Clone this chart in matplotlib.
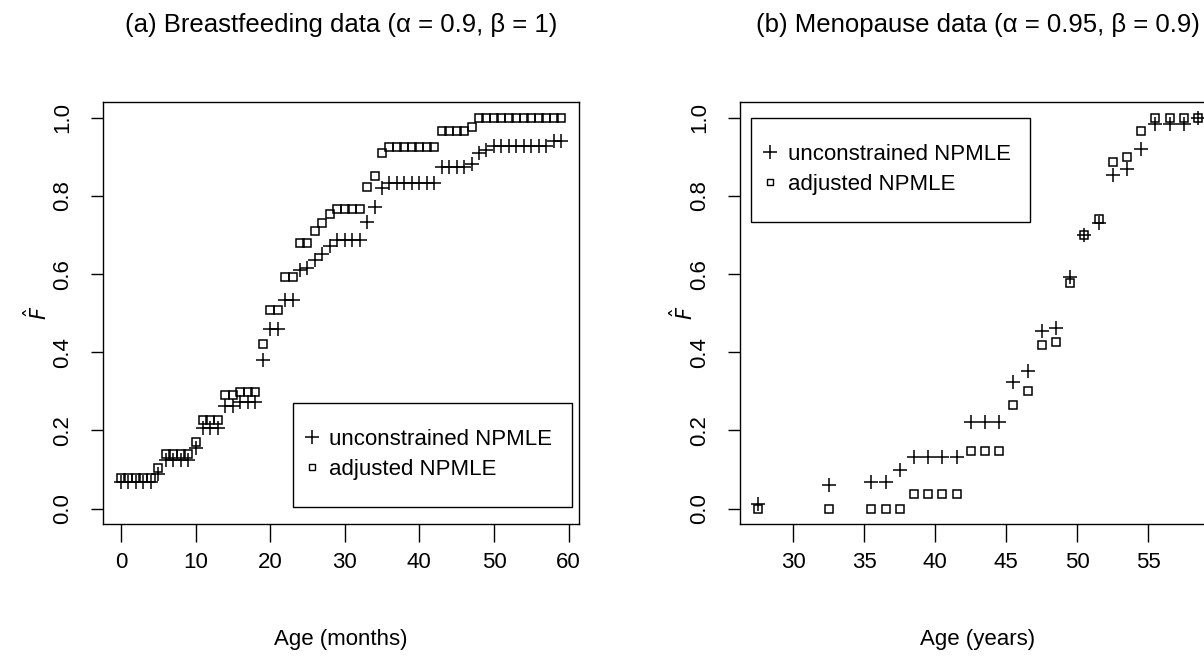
"""Breastfeeding and menopause NPMLE comparison, two panels."""

import matplotlib

matplotlib.use('Agg')
import matplotlib.pyplot as plt
from matplotlib.lines import Line2D
from matplotlib.patches import Rectangle

# (a) breastfeeding data, one estimate per month
months = list(range(60))
bf_unconstrained = (
    [0.068] * 5 + [0.088] + [0.124] * 4 + [0.154] + [0.206] * 3
    + [0.262] * 2 + [0.272] * 3 + [0.38] + [0.46] * 2 + [0.533] * 2
    + [0.61, 0.615, 0.635, 0.652, 0.672] + [0.688] * 4
    + [0.733, 0.772, 0.82] + [0.834] * 7 + [0.873] * 4 + [0.881]
    + [0.91, 0.918] + [0.928] * 8 + [0.94] * 2
)
bf_adjusted = (
    [0.079] * 5 + [0.103] + [0.139] * 4 + [0.171] + [0.228] * 3
    + [0.292] * 2 + [0.299] * 3 + [0.42] + [0.509] * 2 + [0.592] * 2
    + [0.68, 0.68, 0.71, 0.73, 0.754] + [0.766] * 4
    + [0.824, 0.851, 0.909] + [0.925] * 7 + [0.967] * 4 + [0.977]
    + [1.0] * 12
)

# (b) menopause data
ages = [27.5, 32.5, 35.5, 36.5, 37.5, 38.5, 39.5, 40.5, 41.5, 42.5, 43.5,
        44.5, 45.5, 46.5, 47.5, 48.5, 49.5, 50.5, 51.5, 52.5, 53.5, 54.5,
        55.5, 56.5, 57.5, 58.5]
mp_unconstrained = [0.013, 0.06, 0.069, 0.069, 0.099, 0.133, 0.133, 0.133,
                    0.133, 0.222, 0.222, 0.222, 0.324, 0.353, 0.454, 0.462,
                    0.592, 0.699, 0.731, 0.854, 0.869, 0.92, 0.984, 0.984,
                    0.984, 1.0]
mp_adjusted = [0.0, 0.0, 0.0, 0.0, 0.0, 0.038, 0.038, 0.038, 0.038, 0.147,
               0.147, 0.147, 0.264, 0.30, 0.418, 0.427, 0.577, 0.70, 0.741,
               0.888, 0.90, 0.967, 1.0, 1.0, 1.0, 1.0]

titles = ['(a) Breastfeeding data (\u03b1 = 0.9, \u03b2 = 1)',
          '(b) Menopause data (\u03b1 = 0.95, \u03b2 = 0.9)']
xlabels = ['Age (months)', 'Age (years)']
legend_labels = ['unconstrained NPMLE', 'adjusted NPMLE']

plt.rcParams['font.family'] = ['Liberation Sans', 'DejaVu Sans']
plt.rcParams['axes.linewidth'] = 1.0

W, H = 1204, 662
fig = plt.figure(figsize=(W / 100, H / 100), dpi=100)


def px_axes(left, top, right, bottom):
    return fig.add_axes([left / W, 1 - bottom / H, (right - left) / W,
                         (bottom - top) / H])


ax1 = px_axes(103.3, 102.1, 578.7, 524.3)
ax2 = px_axes(740.2, 102.1, 1215.6, 524.3)

panels = [
    (ax1, months, bf_unconstrained, bf_adjusted, (-2.36, 61.36),
     list(range(0, 61, 10))),
    (ax2, ages, mp_unconstrained, mp_adjusted, (26.26, 59.74),
     list(range(30, 60, 5))),
]

for i, (ax, x, unc, adj, xlim, xticks) in enumerate(panels):
    ax.plot(x, unc, linestyle='none', marker='+', color='black',
            markersize=10, markeredgewidth=1.1)
    ax.plot(x, adj, linestyle='none', marker='s', color='black',
            markerfacecolor='none', markersize=6, markeredgewidth=1.1)
    ax.set_xlim(*xlim)
    ax.set_ylim(-0.04, 1.04)
    ax.set_xticks(xticks)
    ax.set_xticklabels([str(t) for t in xticks], fontsize=16)
    yt = [0.0, 0.2, 0.4, 0.6, 0.8, 1.0]
    ax.set_yticks(yt)
    ax.set_yticklabels([f'{t:.1f}' for t in yt], rotation=90, va='center',
                       fontsize=16)
    ax.tick_params(axis='x', direction='out', length=13, width=1, pad=7)
    ax.tick_params(axis='y', direction='out', length=8.6, width=1, pad=13)
    ax.set_title(titles[i], fontsize=18.5, y=1.1826, va='center', pad=0)
    ax.set_xlabel(xlabels[i], fontsize=16, va='center')
    ax.xaxis.set_label_coords(0.5, -0.274)
    ax.set_ylabel(r'$\hat{F}$', fontsize=15, rotation=90, va='center')
    ax.yaxis.set_label_coords(-0.1395 if i == 0 else -0.12, 0.5)

handles = [
    Line2D([], [], linestyle='none', marker='+', color='black',
           markersize=10, markeredgewidth=1.1),
    Line2D([], [], linestyle='none', marker='s', color='black',
           markerfacecolor='none', markersize=5, markeredgewidth=1.0),
]

# legend frames (axes fractions) and content
legend_boxes = [
    (ax1, 0.398, 0.0417, 0.9853, 0.288),
    (ax2, 0.0221, 0.7167, 0.6096, 0.963),
]
for ax, x0, y0, x1, y1 in legend_boxes:
    ax.add_patch(Rectangle((x0, y0), x1 - x0, y1 - y0, transform=ax.transAxes,
                           fill=False, edgecolor='black', linewidth=1.0,
                           clip_on=False, zorder=5))
    ax.legend(handles, legend_labels, loc='center left',
              bbox_to_anchor=(x0 + 8 / 475.4, (y0 + y1) / 2),
              frameon=False, fontsize=16, borderpad=0, borderaxespad=0,
              handlelength=1.0, handletextpad=0.3, labelspacing=0.4)

fig.savefig('out.png', dpi=100)
